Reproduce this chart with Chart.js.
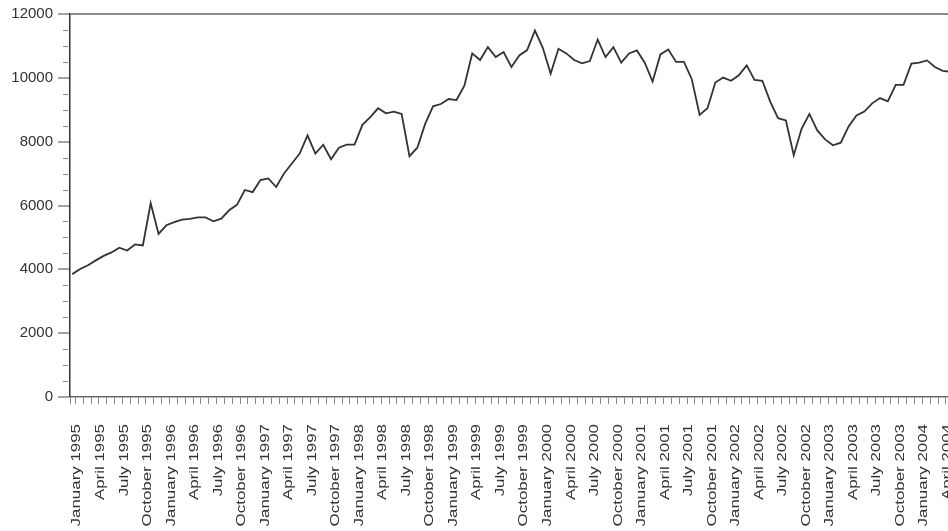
<!DOCTYPE html>
<html>
<head>
<meta charset="utf-8">
<script src="https://cdn.jsdelivr.net/npm/chart.js@4/dist/chart.umd.min.js"></script>
<style>
  html, body { margin: 0; padding: 0; background: #fff; overflow: hidden; }
  #wrap { width: 1010px; height: 531px; position: relative; }
</style>
</head>
<body>
<div id="wrap"><canvas id="c"></canvas></div>
<script>
// Monthly series, January 1995 onward
const monthNames = ['January','February','March','April','May','June','July','August','September','October','November','December'];
const startYear = 1995;

const values1995 = [3850, 4010, 4130, 4280, 4420, 4530, 4680, 4590, 4780, 4750, 6070, 5110];
const values1996 = [5380, 5480, 5560, 5580, 5626, 5626, 5502, 5586, 5850, 6021, 6487, 6420];
const values1997 = [6798, 6849, 6580, 7004, 7315, 7625, 8197, 7625, 7905, 7450, 7812, 7905];
const values1998 = [7905, 8527, 8766, 9046, 8890, 8943, 8868, 7544, 7812, 8558, 9108, 9180];
const values1999 = [9335, 9304, 9751, 10765, 10558, 10962, 10651, 10807, 10341, 10703, 10870, 11480];
const values2000 = [10942, 10133, 10911, 10765, 10558, 10454, 10527, 11200, 10651, 10962, 10476, 10765];
const values2001 = [10858, 10476, 9885, 10734, 10889, 10497, 10497, 9957, 8838, 9046, 9854, 10009];
const values2002 = [9907, 10081, 10391, 9937, 9907, 9254, 8735, 8663, 7575, 8402, 8869, 8352];
const values2003 = [8072, 7886, 7967, 8476, 8818, 8943, 9201, 9366, 9263, 9782, 9782, 10444];
const values2004 = [10476, 10547, 10341, 10217, 10190];

const series = [].concat(values1995, values1996, values1997, values1998, values1999,
                         values2000, values2001, values2002, values2003, values2004);

// Value axis: labelled every 2000, minor marks every 500
const yMin = 0, yMax = 12000, yMajor = 2000, yMinor = 500;

// Months that carry a tick label (every quarter)
const quarterMonths = [0, 3, 6, 9];

const pointOffset = 0.29;   // each point sits just inside its month
const tickOffset = 0.69;    // month marks sit a little after the points
const labelShift = 1.5;     // px

function monthLabel(i) {
  const m = ((i % 12) + 12) % 12;
  const y = startYear + Math.floor(i / 12);
  return monthNames[m] + ' ' + y;
}

const points = series.map((v, i) => ({ x: i + pointOffset, y: v }));

// month labels are drawn in a tall (stretched) face
const xTickLen = 7, xTickPad = 20, labelStretch = 1.3;
const tallLabels = {
  id: 'tallLabels',
  afterDatasetsDraw(chart) {
    const ctx = chart.ctx;
    const y0 = chart.scales.x.top + xTickLen + xTickPad;
    ctx.save();
    ctx.translate(0, y0);
    ctx.scale(1, labelStretch);
    ctx.translate(0, -y0);
  },
  afterDraw(chart) {
    chart.ctx.restore();
  }
};

// short unlabeled marks on the value axis
const minorTicks = {
  id: 'minorTicks',
  afterDraw(chart) {
    const ys = chart.scales.y;
    const ctx = chart.ctx;
    ctx.save();
    ctx.strokeStyle = '#8a8a8a';
    ctx.lineWidth = 1;
    for (let v = yMin; v <= yMax; v += yMinor) {
      if (v % yMajor === 0) continue;
      const py = Math.round(ys.getPixelForValue(v)) + 0.5;
      ctx.beginPath();
      ctx.moveTo(ys.right - 7, py);
      ctx.lineTo(ys.right - 2, py);
      ctx.stroke();
    }
    ctx.restore();
  }
};

const pxPerMonth = 7.842;
const plotLeft = 70;
const canvasWidth = 1010;

new Chart(document.getElementById('c'), {
  type: 'line',
  data: {
    datasets: [{
      data: points,
      borderColor: '#333',
      borderWidth: 1.8,
      pointRadius: 0,
      tension: 0,
      fill: false
    }]
  },
  options: {
    responsive: true,
    maintainAspectRatio: false,
    animation: false,
    layout: { padding: { top: 11, left: 0, right: 0, bottom: 0 } },
    plugins: { legend: { display: false }, tooltip: { enabled: false } },
    scales: {
      x: {
        type: 'linear',
        min: 0,
        max: (canvasWidth - plotLeft) / pxPerMonth,
        afterBuildTicks(scale) {
          const t = [{ value: 0 }];
          for (let k = 0; k + tickOffset <= scale.max; k++) t.push({ value: k + tickOffset });
          scale.ticks = t;
        },
        afterFit(scale) {
          scale.height = 134;
          scale.paddingLeft = 0;
          scale.paddingRight = 0;
        },
        ticks: {
          autoSkip: false,
          minRotation: 90,
          maxRotation: 90,
          padding: xTickPad,
          labelOffset: labelShift,
          z: 1,
          color: '#333',
          font: { family: 'Liberation Sans, Arial, sans-serif', size: 13 },
          callback(v) {
            if (v === 0) return '';
            const i = Math.round(v - tickOffset);
            return quarterMonths.includes(((i % 12) + 12) % 12) ? monthLabel(i) : '';
          }
        },
        grid: { drawOnChartArea: false, tickLength: xTickLen, tickColor: '#888', lineWidth: 1 },
        border: { color: '#666', width: 1.5 }
      },
      y: {
        min: yMin,
        max: yMax,
        afterFit(scale) { scale.width = plotLeft; },
        ticks: {
          stepSize: yMinor,
          padding: 5,
          color: '#333',
          font: { family: 'Liberation Sans, Arial, sans-serif', size: 15 },
          callback(v) { return v % yMajor === 0 ? String(v) : ''; }
        },
        grid: {
          drawOnChartArea: true,
          tickLength: 12,
          color: ctx => (ctx.tick && ctx.tick.value === yMax) ? '#8a8a8a' : 'rgba(0,0,0,0)',
          lineWidth: ctx => (ctx.tick && ctx.tick.value === yMax) ? 2 : 0,
          tickColor: ctx => (ctx.tick && ctx.tick.value % yMajor === 0) ? '#666' : 'rgba(0,0,0,0)',
          tickWidth: 1.2
        },
        border: { color: '#333', width: 1.5 }
      }
    }
  },
  plugins: [tallLabels, minorTicks]
});
</script>
</body>
</html>
